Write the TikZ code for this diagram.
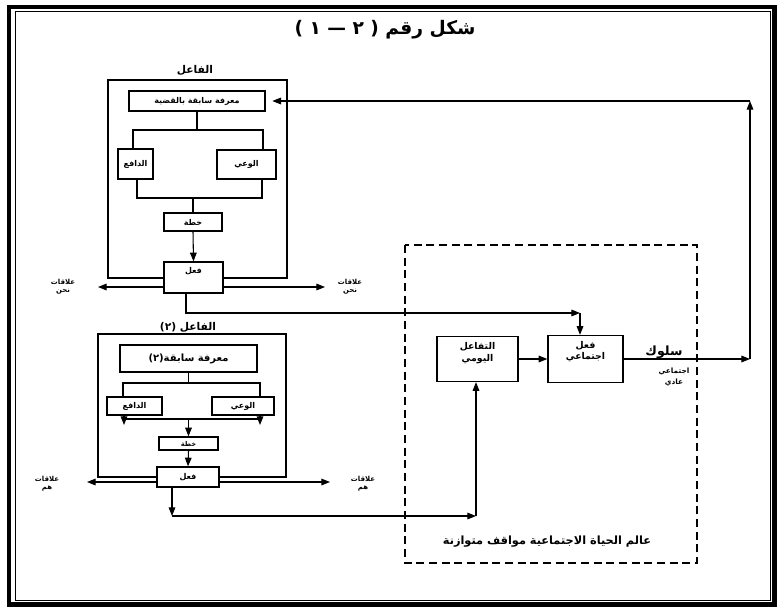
\documentclass[tikz,border=0pt]{standalone}
\usepackage{fontspec}
\usetikzlibrary{arrows.meta}
\newfontfamily\arabicfont[Script=Arabic]{DejaVu Sans}
\TeXXeTstate=1
\newcommand{\ar}[1]{\beginR #1\endR}
\newcommand{\fs}[1]{\arabicfont\bfseries\fontsize{#1}{#1}\selectfont}
\begin{document}
\begin{tikzpicture}[x=0.75pt,y=-0.75pt,
  box/.style={draw, line width=1pt, fill=white, inner sep=0pt, align=center, font=\fs{6}},
  arr/.style={line width=0.8pt, -{Triangle[length=6.5pt,width=5pt]}},
  ln/.style={line width=0.8pt},
  lbl/.style={inner sep=0pt, align=center, font=\fs{5.2}, text depth=0pt},
  frame/.style={line width=1pt},
  dashbox/.style={line width=1.1pt, dash pattern=on 6pt off 3.5pt}]
\useasboundingbox (0,0) rectangle (777,607);
% page frame
\draw[line width=3.2pt] (9,7) rectangle (774.5,604.5);
\draw[line width=0.8pt] (15.5,11.5) rectangle (770.5,600.5);
% title
\node[lbl, font=\fs{14}] (title) at (385,27) {\ar{شكل رقم (  ٢ — ١  )}};

% ===== actor 1 =====
\node[lbl, font=\fs{8}] (actA) at (195,69) {\ar{الفاعل}};
\draw[frame] (108,80) rectangle (287,278);
\node[box, minimum width=102pt, minimum height=15pt] (knowA) at (197,101) {\ar{معرفة سابقة بالقضية}};
\node[box, minimum width=26.25pt, minimum height=22.5pt] (dafA) at (135.5,164) {\ar{الدافع}};
\node[box, minimum width=44.25pt, minimum height=21.75pt] (waA) at (246.5,164.5) {\ar{الوعي}};
\node[box, minimum width=43.5pt, minimum height=13.5pt] (khA) at (193,222) {\ar{خطة}};
\node[box, minimum width=44.25pt, minimum height=23.25pt] (fiA) at (193.5,277.5) {\ar{فعل}\\[4pt]};
\coordinate (bAl) at (133,130);
\coordinate (bAr) at (263,130);
\draw[ln] (knowA.south) -- (knowA.south |- bAl);
\draw[ln] (dafA.north -| bAl) -- (bAl) -- (bAr) -- (waA.north -| bAr);
\coordinate (cAl) at (137,198);
\coordinate (cAr) at (262,198);
\draw[ln] (dafA.south -| cAl) -- (cAl) -- (cAr) -- (waA.south -| cAr);
\draw[ln] (khA.north |- cAl) -- (khA.north);
\draw[arr] (khA.south) -- (fiA.north);
\coordinate (nLa) at (98,287);
\coordinate (nRa) at (325,287);
\draw[arr] (fiA.west |- nLa) -- (nLa);
\draw[arr] (fiA.east |- nRa) -- (nRa);
\node[lbl] (relAl) at (63,286) {\ar{علاقات}\\[1pt]\ar{نحن}};
\node[lbl] (relAr) at (350,286) {\ar{علاقات}\\[1pt]\ar{نحن}};

% ===== actor 2 =====
\node[lbl, font=\fs{8}] (actB) at (188,326) {\ar{الفاعل (٢)}};
\draw[frame] (98,334) rectangle (286,477);
\node[box, minimum width=102.75pt, minimum height=20.25pt, font=\fs{7.5}] (knowB) at (188.5,358.5) {\ar{معرفة سابقة(٢)}};
\node[box, minimum width=41.25pt, minimum height=13.5pt] (dafB) at (134.5,406) {\ar{الدافع}};
\node[box, minimum width=46.5pt, minimum height=13.5pt] (waB) at (243,406) {\ar{الوعي}};
\node[box, minimum width=44.25pt, minimum height=9.75pt, font=\fs{5}] (khB) at (188.5,443.5) {\ar{خطة}};
\node[box, minimum width=46.5pt, minimum height=15pt] (fiB) at (188,477) {\ar{فعل}};
\coordinate (bBl) at (123,383);
\coordinate (bBr) at (260,383);
\draw[ln] (knowB.south) -- (knowB.south |- bBl);
\draw[ln] (dafB.north -| bBl) -- (bBl) -- (bBr) -- (waB.north -| bBr);
\coordinate (cBl) at (124,419);
\coordinate (cBr) at (260,419);
\coordinate (aBl) at (124,425);
\coordinate (aBr) at (260,425);
\draw[ln] (cBl) -- (cBr);
\draw[arr] (dafB.south -| aBl) -- (aBl);
\draw[arr] (waB.south -| aBr) -- (aBr);
\draw[arr] (khB.north |- cBl) -- (khB.north);
\draw[arr] (khB.south) -- (fiB.north);
\coordinate (nLb) at (87,482);
\coordinate (nRb) at (330,482);
\draw[arr] (fiB.west |- nLb) -- (nLb);
\draw[arr] (fiB.east |- nRb) -- (nRb);
\node[lbl] (relBl) at (47,483) {\ar{علاقات}\\[1pt]\ar{هم}};
\node[lbl] (relBr) at (363,483) {\ar{علاقات}\\[1pt]\ar{هم}};

% ===== social world =====
\draw[dashbox] (405,245) rectangle (697,563);
\node[box, minimum width=60.75pt, minimum height=33.75pt, font=\fs{7}] (taf) at (477.5,359) {\ar{التفاعل}\\[2pt]\ar{اليومي}\\[3pt]};
\node[box, minimum width=56.25pt, minimum height=35.25pt, font=\fs{7}] (soc) at (585.5,359) {\ar{فعل}\\[1pt]\ar{اجتماعي}\\[6pt]};
\node[lbl, font=\fs{8.5}] (world) at (547,540) {\ar{عالم الحياة الاجتماعية مواقف متوازنة}};
\draw[arr] (taf.east) -- (soc.west);
\node[lbl, font=\fs{9.5}] (beh) at (664,351) {\ar{سلوك}};
\node[lbl, font=\fs{5.5}] (beh2) at (674,376) {\ar{اجتماعي}\\[2pt]\ar{عادي}};

% connectors
\coordinate (cA) at (186,313);
\coordinate (cA2) at (580,313);
\draw[arr] (fiA.south -| cA) |- (cA2);
\draw[arr] (cA2) -- (soc.north -| cA2);
\coordinate (cB) at (172,516);
\coordinate (cB2) at (476,516);
\draw[arr] (fiB.south -| cB) -- (cB);
\draw[arr] (cB) -- (cB2);
\draw[arr] (cB2) -- (taf.south -| cB2);
\coordinate (rb) at (750,359);
\coordinate (rtop) at (750,101);
\draw[arr] (soc.east) -- (rb);
\draw[arr] (rb) -- (rtop);
\draw[arr, shorten >=5pt] (rtop) -- (knowA.east);
\end{tikzpicture}
\end{document}
